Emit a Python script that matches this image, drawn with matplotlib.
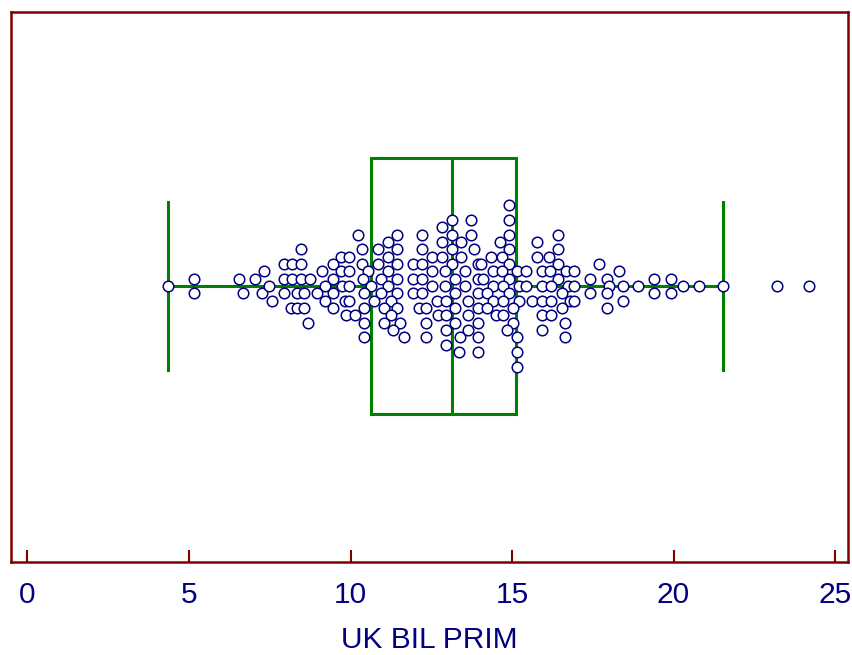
import matplotlib
matplotlib.use('Agg')
import matplotlib.pyplot as plt
import numpy as np

'''data'''
# observed values (UK BIL PRIM) and their stacking level in the swarm
values = [
    4.35, 5.15, 5.15, 6.55, 6.67, 7.04, 7.32, 7.26, 7.48, 7.57,
    10.23, 8.47, 10.36, 7.94, 8.19, 8.47, 9.71, 9.95, 9.46, 10.36,
    9.12, 9.71, 9.95, 10.54, 7.94, 8.19, 8.47, 8.75, 9.46, 10.39,
    9.21, 9.74, 9.95, 10.63, 7.94, 8.34, 8.56, 8.96, 9.46, 10.42,
    9.21, 9.83, 9.95, 10.73, 8.16, 8.34, 8.56, 9.46, 10.42, 9.86,
    10.14, 8.68, 10.42, 10.42,
    13.14, 11.44, 12.21, 12.83, 13.14, 11.16, 12.83, 13.42, 10.85, 11.44,
    12.21, 13.14, 11.16, 12.52, 12.83, 13.42, 10.85, 11.44, 11.93, 12.21,
    13.14, 11.16, 12.52, 12.93, 10.94, 11.44, 11.93, 12.21, 13.24, 11.16,
    12.52, 12.93, 10.94, 11.44, 11.93, 12.21, 13.24, 11.25, 12.68, 12.96,
    11.04, 11.44, 12.12, 12.34, 13.24, 11.25, 12.71, 12.96, 11.04, 11.53,
    12.34, 13.24, 11.32, 12.96, 11.66, 12.34, 13.39, 12.96, 13.36,
    14.91, 13.73, 14.91, 13.73, 14.91, 14.63, 13.82, 14.91, 14.35, 14.69,
    14.91, 13.95, 14.04, 13.54, 14.41, 14.69, 15.15, 15.43, 13.95, 14.10,
    14.91, 13.54, 14.41, 14.72, 15.22, 15.43, 13.95, 14.23, 14.91, 13.64,
    14.41, 14.72, 15.22, 15.62, 13.95, 14.23, 15.03, 13.64, 14.50, 14.72,
    15.03, 13.95, 14.84, 13.64, 13.95, 15.15, 13.95, 15.15, 15.15,
    15.77, 16.42, 16.42, 15.77, 16.15, 16.42, 17.69, 15.93, 16.18, 16.67,
    16.92, 18.31, 16.42, 17.41, 17.94, 15.93, 16.21, 16.73, 16.92, 18.00,
    18.44, 18.90, 16.55, 17.41, 17.94, 15.93, 16.21, 16.80, 16.92, 18.44,
    16.55, 17.94, 15.93, 16.21, 16.64, 15.93, 16.64,
    19.40, 19.40, 19.92, 19.92, 20.30, 20.79, 21.53, 23.21, 24.20,
]
levels = [
    0, 1, -1, 1, -1, 1, 2, -1, 0, -2,
    7, 5, 5, 3, 3, 3, 4, 4, 3, 3,
    2, 2, 2, 2, 1, 1, 1, 1, 1, 1,
    0, 0, 0, 0, -1, -1, -1, -1, -1, -1,
    -2, -2, -2, -2, -3, -3, -3, -3, -3, -4,
    -4, -5, -5, -7,
    9, 7, 7, 8, 7, 6, 6, 6, 5, 5,
    5, 5, 4, 4, 4, 4, 3, 3, 3, 3,
    3, 2, 2, 2, 1, 1, 1, 1, 1, 0,
    0, 0, -1, -1, -1, -1, -1, -2, -2, -2,
    -3, -3, -3, -3, -3, -4, -4, -4, -5, -5,
    -5, -5, -6, -6, -7, -7, -7, -8, -9,
    11, 9, 9, 7, 7, 6, 5, 5, 4, 4,
    3, 3, 3, 2, 2, 2, 2, 2, 1, 1,
    1, 0, 0, 0, 0, 0, -1, -1, -1, -2,
    -2, -2, -2, -2, -3, -3, -3, -4, -4, -4,
    -5, -5, -6, -6, -7, -7, -9, -9, -11,
    6, 7, 5, 4, 4, 3, 3, 2, 2, 2,
    2, 2, 1, 1, 1, 0, 0, 0, 0, 0,
    0, 0, -1, -1, -1, -2, -2, -2, -2, -2,
    -3, -3, -4, -4, -5, -6, -7,
    1, -1, 1, -1, 0, 0, 0, 0, 0,
]

# box plot summary: lower whisker, Q1, median, Q3, upper whisker
box_stats = [4.35, 10.63, 13.14, 15.12, 21.53]
xticks = [0, 5, 10, 15, 20, 25]
xlabel = 'UK BIL PRIM'

'''style'''
frame_color = '#800000'
text_color = '#000080'
box_color = '#008000'
plt.rcParams['font.family'] = ['Liberation Sans', 'DejaVu Sans']

'''plot'''
fig = plt.figure(figsize=(8.52, 6.55), dpi=100)
ax = fig.add_axes([11 / 852, 1 - 562 / 655, 837 / 852, 550 / 655])

lo, q1, med, q3, hi = box_stats
box_half = 17.5
cap_half = 11.5
lw = 2.2

# box
ax.plot([q1, q3, q3, q1, q1], [-box_half, -box_half, box_half, box_half, -box_half],
        color=box_color, lw=lw, solid_joinstyle='miter', zorder=2)
ax.plot([med, med], [-box_half, box_half], color=box_color, lw=lw, zorder=2)
# whiskers
ax.plot([lo, q1], [0, 0], color=box_color, lw=lw, zorder=2)
ax.plot([q3, hi], [0, 0], color=box_color, lw=lw, zorder=2)
ax.plot([lo, lo], [-cap_half, cap_half], color=box_color, lw=lw, zorder=2)
ax.plot([hi, hi], [-cap_half, cap_half], color=box_color, lw=lw, zorder=2)

# points
ax.plot(values, levels, linestyle='none', marker='o', ms=7.6, mew=1.1,
        mfc='white', mec=text_color, zorder=3)

ax.set_xlim(-0.51, 25.40)
ax.set_ylim(-37.65, 37.4)

ax.set_xticks(xticks)
ax.set_yticks([])
ax.tick_params(axis='x', direction='in', length=8.6, width=1.5, color=frame_color,
               labelcolor=text_color, labelsize=21.5, pad=14)
for side in ax.spines.values():
    side.set_color(frame_color)
    side.set_linewidth(1.8)

ax.set_xlabel(xlabel, color=text_color, fontsize=21.5, labelpad=12)

fig.savefig('out.png', dpi=100)
